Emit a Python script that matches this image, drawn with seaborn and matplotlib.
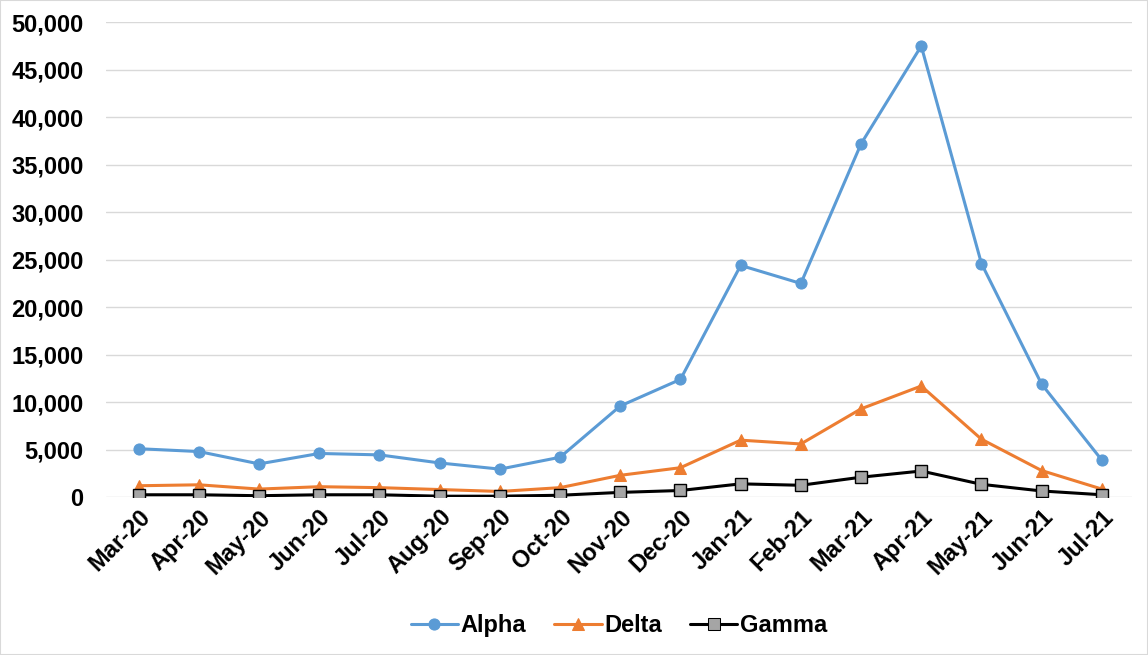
import numpy as np
import pandas as pd
import matplotlib
matplotlib.use('Agg')
import matplotlib.pyplot as plt
import seaborn as sns
from matplotlib.ticker import FuncFormatter

# data
months = ['Mar-20', 'Apr-20', 'May-20', 'Jun-20', 'Jul-20', 'Aug-20', 'Sep-20', 'Oct-20',
          'Nov-20', 'Dec-20', 'Jan-21', 'Feb-21', 'Mar-21', 'Apr-21', 'May-21', 'Jun-21', 'Jul-21']
alpha = [5100, 4800, 3500, 4600, 4450, 3600, 2950, 4200,
         9600, 12400, 24400, 22500, 37200, 47500, 24600, 11900, 3900]
delta = [1200, 1300, 850, 1100, 1000, 800, 600, 1000,
         2300, 3100, 6000, 5600, 9300, 11700, 6100, 2800, 850]
gamma = [250, 250, 150, 250, 250, 100, 100, 200,
         500, 700, 1400, 1250, 2100, 2750, 1350, 650, 250]

df = pd.DataFrame({'Month': months * 3,
                   'Cases': alpha + delta + gamma,
                   'Variant': ['Alpha'] * 17 + ['Delta'] * 17 + ['Gamma'] * 17})

sns.set_style('white')
plt.rcParams['font.family'] = ['Liberation Sans', 'DejaVu Sans']
plt.rcParams['font.weight'] = 'bold'
plt.rcParams['text.color'] = 'black'
plt.rcParams['xtick.color'] = 'black'
plt.rcParams['ytick.color'] = 'black'

fig = plt.figure(figsize=(11.48, 6.55), dpi=100)
ax = fig.add_axes([0.092, 0.241, 0.894, 0.725])

palette = {'Alpha': '#5b9bd5', 'Delta': '#ed7d31', 'Gamma': '#000000'}
markers = {'Alpha': 'o', 'Delta': '^', 'Gamma': 's'}
sns.lineplot(data=df, x='Month', y='Cases', hue='Variant', style='Variant',
             palette=palette, markers=markers, dashes=False, sort=False,
             linewidth=2.2, markersize=8, ax=ax)

# marker colours like the original
for line, name in zip(ax.lines[:3], ['Alpha', 'Delta', 'Gamma']):
    if name == 'Gamma':
        line.set_markerfacecolor('#a5a5a5')
        line.set_markeredgecolor('#000000')
        line.set_markeredgewidth(1.0)
    else:
        line.set_markerfacecolor(palette[name])
        line.set_markeredgecolor(palette[name])

ax.set_ylim(0, 50000)
ax.set_yticks(np.arange(0, 50001, 5000))
ax.yaxis.set_major_formatter(FuncFormatter(lambda v, p: f'{int(v):,}'))
ax.set_xlim(-0.55, 16.5)
ax.grid(axis='y', color='#d9d9d9', linewidth=1)
ax.set_axisbelow(True)
for s in ax.spines.values():
    s.set_visible(False)
ax.set_xlabel('')
ax.set_ylabel('')
ax.tick_params(axis='both', length=0, labelsize=17, labelcolor='black')
ax.tick_params(axis='y', pad=16)
ax.tick_params(axis='x', pad=6)
plt.setp(ax.get_xticklabels(), rotation=45, ha='right', rotation_mode='anchor', fontweight='bold')
plt.setp(ax.get_yticklabels(), fontweight='bold')

handles, labels = ax.get_legend_handles_labels()
for h, name in zip(handles, labels):
    if name == 'Gamma':
        h.set_markerfacecolor('#a5a5a5')
        h.set_markeredgecolor('#000000')
    else:
        h.set_markerfacecolor(palette[name])
        h.set_markeredgecolor(palette[name])
leg = ax.legend(handles, labels, loc='center', bbox_to_anchor=(0.5, -0.27), ncol=3, frameon=False,
                prop={'size': 17, 'weight': 'bold'}, handlelength=2.0, handletextpad=0.1,
                columnspacing=1.2)
for t in leg.get_texts():
    t.set_color('black')

fig.patches.append(plt.Rectangle((0, 0), 1, 1, transform=fig.transFigure, fill=False,
                                 edgecolor='#d9d9d9', linewidth=1.5))
fig.savefig('out.png', dpi=100)
